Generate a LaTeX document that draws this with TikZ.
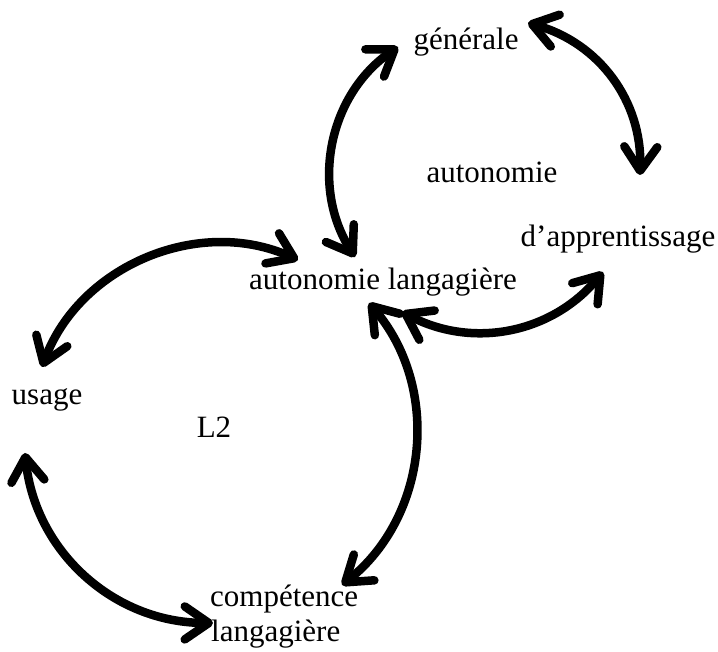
\documentclass[tikz,border=0pt]{standalone}
\usepackage{fontspec}
\setmainfont{Liberation Serif}
\usetikzlibrary{arrows.meta}
\begin{document}
\begin{tikzpicture}[x=1pt,y=1pt,
  lbl/.style={inner sep=0pt, font=\fontsize{31}{36}\selectfont, anchor=base},
  lblw/.style={lbl, anchor=base west},
  tipb/.tip={Straight Barb[length=24pt,width=33pt,round]},
  dbl/.style={line width=8.5pt, tipb-tipb}
]
\useasboundingbox (0,0) rectangle (718,652);
% labels
\node[lbl] (gen) at (466,602) {générale};
\node[lbl] (aut) at (492,469) {autonomie};
\node[lbl] (app) at (618,405) {d’apprentissage};
\node[lbl] (al) at (383,362) {autonomie langagière};
\node[lbl] (usage) at (47,247) {usage};
\node[lbl] (l2) at (214,214) {L2};
\node[lblw] (comp) at (210,45) {compétence};
\node[lblw] (lang) at (211,10) {langagière};
% arrow end points
\coordinate (a1) at (355,395);
\coordinate (a2) at (398,605);
\coordinate (b1) at (528,629);
\coordinate (b2) at (640,477);
\coordinate (c1) at (603,380);
\coordinate (c2) at (402,340);
\coordinate (e1) at (298,392);
\coordinate (e2) at (42,285);
\coordinate (f1) at (25,199);
\coordinate (f2) at (213,29);
\coordinate (d1) at (369,349);
\coordinate (d2) at (342,67);
% arrows
\draw[dbl] (a1) to[bend left=44] (a2);
\draw[dbl] (b1) to[bend left=38] (b2);
\draw[dbl] (c1) to[bend left=39] (c2);
\draw[dbl] (e1) to[bend right=47] (e2);
\draw[dbl] (f1) to[bend right=42] (f2);
\draw[dbl] (d1) to[bend left=46] (d2);
\end{tikzpicture}
\end{document}
